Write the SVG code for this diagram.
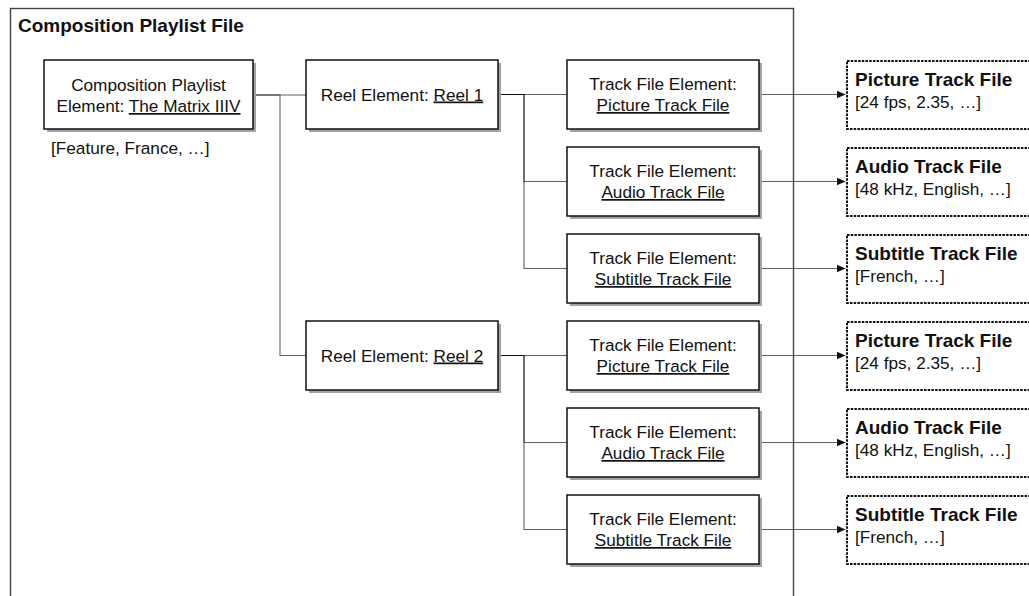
<svg xmlns="http://www.w3.org/2000/svg" width="1029" height="596" viewBox="0 0 1029 596">
  <defs>
    <marker id="arrow" viewBox="0 0 10 10" refX="10" refY="5" markerWidth="9" markerHeight="9" markerUnits="userSpaceOnUse" orient="auto">
      <path d="M0,0.5 L10,5 L0,9.5 Z" fill="#111"/>
    </marker>
  </defs>
  <style>
    text { font-family: "Liberation Sans", Arial, sans-serif; fill: #111; }
    .t { font-size: 17.2px; }
    .c { text-anchor: middle; }
    .b { font-size: 19px; font-weight: bold; }
    .u { text-decoration: underline; }
    .box { fill: #fff; stroke: #111; stroke-width: 1.5; }
    .shadow { fill: #a3a3a3; }
    .out { fill: #fff; stroke: #111; stroke-width: 2; stroke-dasharray: 2.5 1.2; }
    .frame { fill: none; stroke: #444; stroke-width: 1.4; }
    .wire { fill: none; stroke: #000; stroke-opacity: 0.62; stroke-width: 1.1; }
  </style>

  <!-- outer file frame -->
  <g id="cpl-file">
    <rect class="frame" x="10.5" y="8.5" width="783" height="600"/>
    <text class="b" x="18" y="32">Composition Playlist File</text>
  </g>

  <!-- connectors -->
  <g id="connectors">
    <polyline class="wire" points="253,95 306,95"/>
    <polyline class="wire" points="253,95 280,95 280,355.5 306,355.5"/>
    <polyline class="wire" points="498,94.5 567,94.5"/>
    <polyline class="wire" points="498,94.5 524,94.5 524,181.5 567,181.5"/>
    <polyline class="wire" points="498,94.5 524,94.5 524,268.5 567,268.5"/>
    <polyline class="wire" points="498,355.5 567,355.5"/>
    <polyline class="wire" points="498,355.5 524,355.5 524,442.5 567,442.5"/>
    <polyline class="wire" points="498,355.5 524,355.5 524,529.5 567,529.5"/>
    <line class="wire" x1="759" y1="94.5" x2="845.5" y2="94.5" marker-end="url(#arrow)"/>
    <line class="wire" x1="759" y1="181.5" x2="845.5" y2="181.5" marker-end="url(#arrow)"/>
    <line class="wire" x1="759" y1="268.5" x2="845.5" y2="268.5" marker-end="url(#arrow)"/>
    <line class="wire" x1="759" y1="355.5" x2="845.5" y2="355.5" marker-end="url(#arrow)"/>
    <line class="wire" x1="759" y1="442.5" x2="845.5" y2="442.5" marker-end="url(#arrow)"/>
    <line class="wire" x1="759" y1="529.5" x2="845.5" y2="529.5" marker-end="url(#arrow)"/>
  </g>

  <!-- composition playlist element -->
  <g id="cpl-element">
    <rect class="shadow" x="47" y="63" width="209" height="69"/>
    <rect class="box" x="44" y="60" width="209" height="69"/>
    <text class="t c" x="148.5" y="90.5">Composition Playlist</text>
    <text class="t c" x="148.5" y="112">Element: <tspan class="u">The Matrix IIIV</tspan></text>
    <text class="t" x="51" y="154">[Feature, France, …]</text>
  </g>

  <!-- reels -->
  <g id="reel-1">
    <rect class="shadow" x="309" y="63" width="192" height="69"/>
    <rect class="box" x="306" y="60" width="192" height="69"/>
    <text class="t c" x="402" y="100.5">Reel Element: <tspan class="u">Reel 1</tspan></text>
  </g>
  <g id="reel-2">
    <rect class="shadow" x="309" y="324" width="192" height="69"/>
    <rect class="box" x="306" y="321" width="192" height="69"/>
    <text class="t c" x="402" y="361.5">Reel Element: <tspan class="u">Reel 2</tspan></text>
  </g>

  <!-- track file elements, reel 1 -->
  <g id="r1-picture">
    <rect class="shadow" x="570" y="63" width="192" height="69"/>
    <rect class="box" x="567" y="60" width="192" height="69"/>
    <text class="t c" x="663" y="90">Track File Element:</text>
    <text class="t c u" x="663" y="111">Picture Track File</text>
  </g>
  <g id="r1-audio">
    <rect class="shadow" x="570" y="150" width="192" height="69"/>
    <rect class="box" x="567" y="147" width="192" height="69"/>
    <text class="t c" x="663" y="177">Track File Element:</text>
    <text class="t c u" x="663" y="198">Audio Track File</text>
  </g>
  <g id="r1-subtitle">
    <rect class="shadow" x="570" y="237" width="192" height="69"/>
    <rect class="box" x="567" y="234" width="192" height="69"/>
    <text class="t c" x="663" y="264">Track File Element:</text>
    <text class="t c u" x="663" y="285">Subtitle Track File</text>
  </g>

  <!-- track file elements, reel 2 -->
  <g id="r2-picture">
    <rect class="shadow" x="570" y="324" width="192" height="69"/>
    <rect class="box" x="567" y="321" width="192" height="69"/>
    <text class="t c" x="663" y="351">Track File Element:</text>
    <text class="t c u" x="663" y="372">Picture Track File</text>
  </g>
  <g id="r2-audio">
    <rect class="shadow" x="570" y="411" width="192" height="69"/>
    <rect class="box" x="567" y="408" width="192" height="69"/>
    <text class="t c" x="663" y="438">Track File Element:</text>
    <text class="t c u" x="663" y="459">Audio Track File</text>
  </g>
  <g id="r2-subtitle">
    <rect class="shadow" x="570" y="498" width="192" height="69"/>
    <rect class="box" x="567" y="495" width="192" height="69"/>
    <text class="t c" x="663" y="525">Track File Element:</text>
    <text class="t c u" x="663" y="546">Subtitle Track File</text>
  </g>

  <!-- external track files -->
  <g id="picture-file-1">
    <rect class="out" x="847" y="61" width="200" height="68"/>
    <text class="b" x="855" y="85.5">Picture Track File</text>
    <text class="t" x="855" y="108">[24 fps, 2.35, …]</text>
  </g>
  <g id="audio-file-1">
    <rect class="out" x="847" y="148" width="200" height="68"/>
    <text class="b" x="855" y="172.5">Audio Track File</text>
    <text class="t" x="855" y="195">[48 kHz, English, …]</text>
  </g>
  <g id="subtitle-file-1">
    <rect class="out" x="847" y="235" width="200" height="68"/>
    <text class="b" x="855" y="259.5">Subtitle Track File</text>
    <text class="t" x="855" y="282">[French, …]</text>
  </g>
  <g id="picture-file-2">
    <rect class="out" x="847" y="322" width="200" height="68"/>
    <text class="b" x="855" y="346.5">Picture Track File</text>
    <text class="t" x="855" y="369">[24 fps, 2.35, …]</text>
  </g>
  <g id="audio-file-2">
    <rect class="out" x="847" y="409" width="200" height="68"/>
    <text class="b" x="855" y="433.5">Audio Track File</text>
    <text class="t" x="855" y="456">[48 kHz, English, …]</text>
  </g>
  <g id="subtitle-file-2">
    <rect class="out" x="847" y="496" width="200" height="68"/>
    <text class="b" x="855" y="520.5">Subtitle Track File</text>
    <text class="t" x="855" y="543">[French, …]</text>
  </g>
</svg>
